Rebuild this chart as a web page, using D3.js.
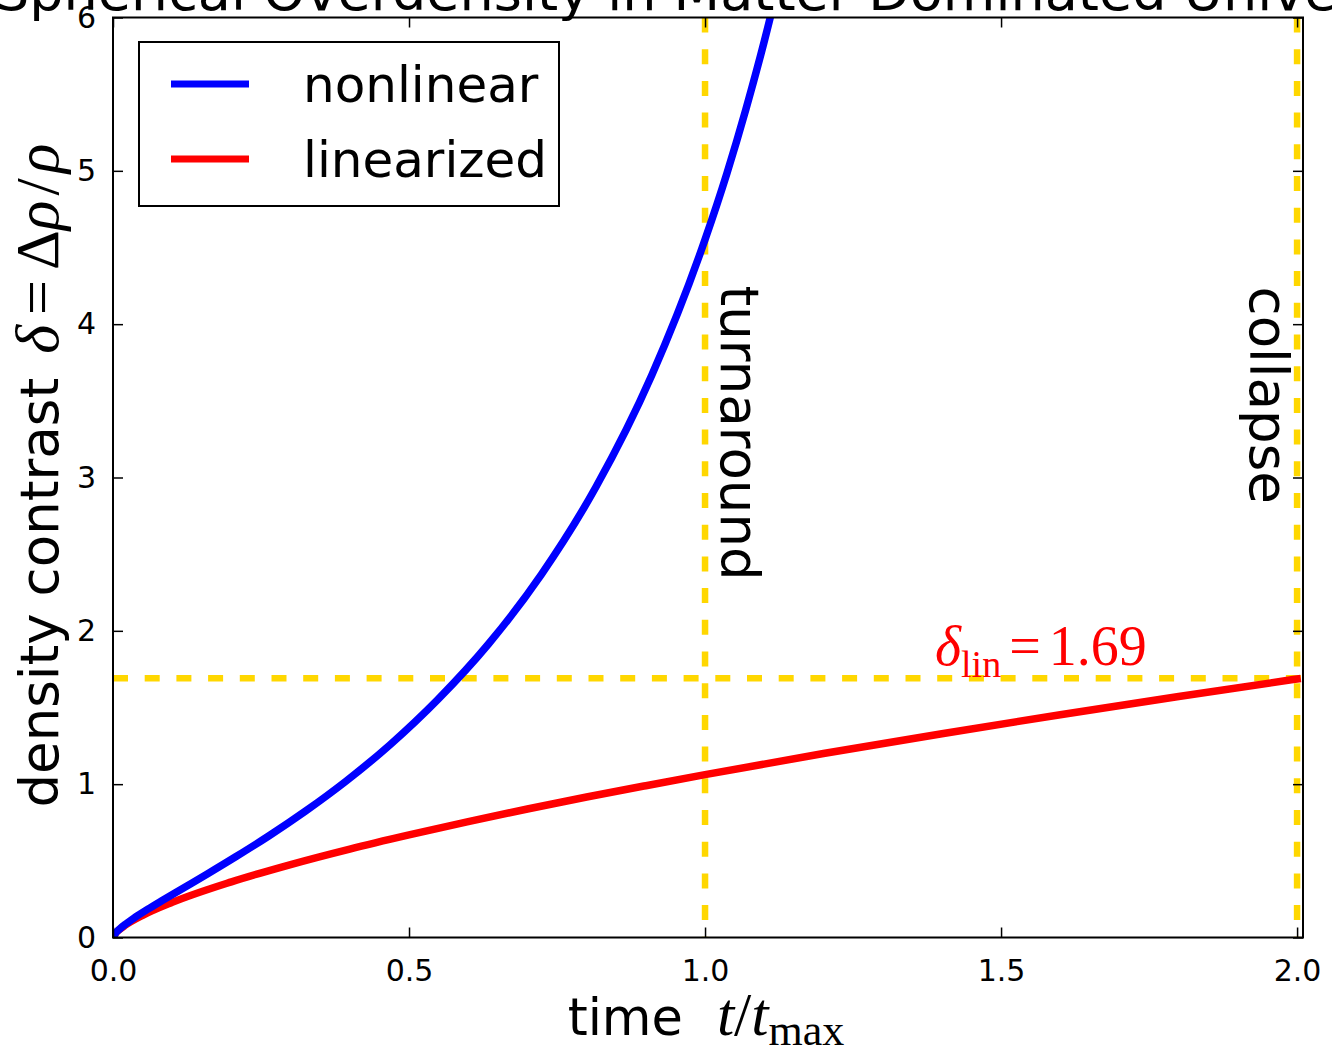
<!DOCTYPE html>
<html>
<head>
<meta charset="utf-8">
<script src="https://cdn.jsdelivr.net/npm/d3@7"></script>
<style>
  html, body { margin: 0; padding: 0; background: #fff; }
  svg { display: block; }
  .tick text { font-family: "DejaVu Sans", sans-serif; }
</style>
</head>
<body>
<svg id="chart" width="1332" height="1054"></svg>
<script>
"use strict";

// nonlinear spherical collapse
const tNonlin = [0, 0.0048, 0.0113, 0.0218, 0.0371, 0.0581, 0.0853, 0.1191, 0.1600, 0.2079,
                 0.2630, 0.3250, 0.3937, 0.4685, 0.5489, 0.6342, 0.7234, 0.8157, 0.9100, 1.0000,
                 1.0372, 1.0689, 1.1006, 1.1322];
const deltaNonlin = [0, 0.031, 0.056, 0.089, 0.131, 0.183, 0.246, 0.323, 0.416, 0.528,
                     0.662, 0.824, 1.020, 1.259, 1.553, 1.914, 2.367, 2.938, 3.667, 4.552,
                     4.987, 5.400, 5.853, 6.353];

// linear theory, red curve
const tLin = [0, 0.005, 0.01, 0.02, 0.05, 0.1, 0.2, 0.3, 0.4, 0.5, 0.6, 0.7, 0.8, 0.9, 1.0,
              1.2, 1.4, 1.6, 1.8, 2.0];
const deltaLin = [0, 0.031, 0.049, 0.078, 0.144, 0.229, 0.363, 0.476, 0.577, 0.669, 0.756,
                  0.838, 0.916, 0.990, 1.062, 1.200, 1.329, 1.453, 1.572, 1.686];

const xTicks = [0, 0.5, 1.0, 1.5, 2.0];
const yTicks = [0, 1, 2, 3, 4, 5, 6];
const turnaroundT = 1.0;
const collapseT = 2.0;
const deltaCrit = 1.69;

const seriesNames = ["nonlinear", "linearized"];
const seriesColors = ["#0000ff", "#ff0000"];

let svg = d3.select("#chart"),
    margin = { top: 17.5, right: 29, bottom: 116.5, left: 113 },
    width = +svg.attr("width") - margin.left - margin.right,
    height = +svg.attr("height") - margin.top - margin.bottom;

let x = d3.scaleLinear().domain([0, 2.01]).range([0, width]);
let y = d3.scaleLinear().domain([0, 6]).range([height, 0]);

let g = svg.append("g").attr("transform", "translate(" + margin.left + "," + margin.top + ")");

// title (sits partly above the page, like the original)
svg.append("text")
    .attr("x", margin.left + width / 2)
    .attr("y", 10)
    .attr("text-anchor", "middle")
    .attr("font-family", "DejaVu Sans, sans-serif")
    .attr("font-size", 54)
    .text("Spherical Overdensity in Matter Dominated Universe");

svg.append("defs").append("clipPath").attr("id", "plotclip")
    .append("rect").attr("x", 0).attr("y", 0).attr("width", width).attr("height", height);

let plot = g.append("g").attr("clip-path", "url(#plotclip)");

// gold guide lines
const gold = "#ffd700";
plot.append("line")
    .attr("x1", x(0)).attr("x2", x(2.01))
    .attr("y1", y(deltaCrit)).attr("y2", y(deltaCrit))
    .attr("stroke", gold).attr("stroke-width", 6.5)
    .attr("stroke-dasharray", "15,16.7");

[turnaroundT, collapseT].forEach(function (t) {
    plot.append("line")
        .attr("x1", x(t)).attr("x2", x(t))
        .attr("y1", y(6)).attr("y2", y(0))
        .attr("stroke", gold).attr("stroke-width", 6.5)
        .attr("stroke-dasharray", "15,16.7");
});

let line = d3.line()
    .x(function (d) { return x(d[0]); })
    .y(function (d) { return y(d[1]); })
    .curve(d3.curveMonotoneX);

let nonlinData = tNonlin.map(function (t, i) { return [t, deltaNonlin[i]]; });
let linData = tLin.map(function (t, i) { return [t, deltaLin[i]]; });

plot.append("path").datum(linData)
    .attr("d", line).attr("fill", "none")
    .attr("stroke", seriesColors[1]).attr("stroke-width", 7.5)
    .attr("stroke-linecap", "square");

plot.append("path").datum(nonlinData)
    .attr("d", line).attr("fill", "none")
    .attr("stroke", seriesColors[0]).attr("stroke-width", 7.5)
    .attr("stroke-linecap", "square");

// axes, ticks inside on all four sides
let xAxis = d3.axisBottom(x).tickValues(xTicks).tickFormat(d3.format(".1f")).tickSizeInner(-10).tickSizeOuter(0).tickPadding(22);
let yAxis = d3.axisLeft(y).tickValues(yTicks).tickFormat(d3.format("d")).tickSizeInner(-10).tickSizeOuter(0).tickPadding(17);

let gx = g.append("g").attr("transform", "translate(0," + height + ")").call(xAxis);
let gy = g.append("g").call(yAxis);
g.append("g").call(d3.axisTop(x).tickValues(xTicks).tickFormat("").tickSizeInner(-10).tickSizeOuter(0));
g.append("g").attr("transform", "translate(" + width + ",0)")
    .call(d3.axisRight(y).tickValues(yTicks).tickFormat("").tickSizeInner(-10).tickSizeOuter(0));

g.selectAll(".domain").remove();
g.selectAll(".tick line").attr("stroke", "#000").attr("stroke-width", 1.5);
gx.selectAll(".tick text").attr("font-size", 30).attr("fill", "#000");
gy.selectAll(".tick text").attr("font-size", 30).attr("fill", "#000");

g.append("rect")
    .attr("x", 0).attr("y", 0).attr("width", width).attr("height", height)
    .attr("fill", "none").attr("stroke", "#000").attr("stroke-width", 2);

// rotated event labels
g.append("text")
    .attr("transform", "translate(" + (x(turnaroundT) + 16) + "," + 268 + ") rotate(90)")
    .attr("font-family", "DejaVu Sans, sans-serif").attr("font-size", 53)
    .text("turnaround");

g.append("text")
    .attr("transform", "translate(" + (x(collapseT) - 47) + "," + 269 + ") rotate(90)")
    .attr("font-family", "DejaVu Sans, sans-serif").attr("font-size", 53)
    .text("collapse");

// delta_lin annotation
let ann = g.append("text")
    .attr("x", 822).attr("y", 647)
    .attr("fill", "#ff0000")
    .attr("font-family", "Liberation Serif, serif").attr("font-size", 56);
ann.append("tspan").attr("font-style", "italic").text("δ");
ann.append("tspan").attr("font-size", 38).attr("dy", 12).text("lin");
ann.append("tspan").attr("dy", -12).attr("dx", 8).text("=");
ann.append("tspan").attr("dx", 8).text("1.69");

// legend
let legend = g.append("g").attr("transform", "translate(" + (139 - margin.left) + "," + (42 - margin.top) + ")");
legend.append("rect")
    .attr("width", 420).attr("height", 164)
    .attr("fill", "#fff").attr("stroke", "#000").attr("stroke-width", 2);
seriesNames.forEach(function (name, i) {
    let yy = 42 + i * 75;
    legend.append("line")
        .attr("x1", 32).attr("x2", 110).attr("y1", yy).attr("y2", yy)
        .attr("stroke", seriesColors[i]).attr("stroke-width", 7);
    legend.append("text")
        .attr("x", 164).attr("y", yy + 18)
        .attr("font-family", "DejaVu Sans, sans-serif").attr("font-size", 50)
        .text(name);
});

// axis labels
const mathFont = "Liberation Serif, serif";
let xl = svg.append("text")
    .attr("x", margin.left + width / 2 - 2).attr("y", 1035)
    .attr("text-anchor", "middle")
    .attr("font-family", "DejaVu Sans, sans-serif").attr("font-size", 51);
xl.append("tspan").text("time");
xl.append("tspan").attr("dx", 34).attr("font-family", mathFont).attr("font-style", "italic").attr("font-size", 62).text("t");
xl.append("tspan").attr("font-family", mathFont).attr("font-size", 62).text("/");
xl.append("tspan").attr("font-family", mathFont).attr("font-style", "italic").attr("font-size", 62).text("t");
xl.append("tspan").attr("font-family", mathFont).attr("font-size", 44).attr("dy", 10).text("max");

let yl = svg.append("text")
    .attr("transform", "translate(58," + (margin.top + height / 2 - 2) + ") rotate(-90)")
    .attr("text-anchor", "middle")
    .attr("font-family", "DejaVu Sans, sans-serif").attr("font-size", 53);
yl.append("tspan").text("density contrast");
yl.append("tspan").attr("dx", 24).attr("font-family", mathFont).attr("font-style", "italic").attr("font-size", 62).text("δ");
yl.append("tspan").attr("font-family", mathFont).attr("font-size", 62).attr("dx", 10).text("=");
yl.append("tspan").attr("font-family", mathFont).attr("font-size", 62).attr("dx", 10).text("Δ");
yl.append("tspan").attr("font-family", mathFont).attr("font-style", "italic").attr("font-size", 62).text("ρ");
yl.append("tspan").attr("font-family", mathFont).attr("font-size", 62).attr("dx", 5).text("/");
yl.append("tspan").attr("font-family", mathFont).attr("font-style", "italic").attr("font-size", 62).attr("dx", 5).text("ρ");
</script>
</body>
</html>
